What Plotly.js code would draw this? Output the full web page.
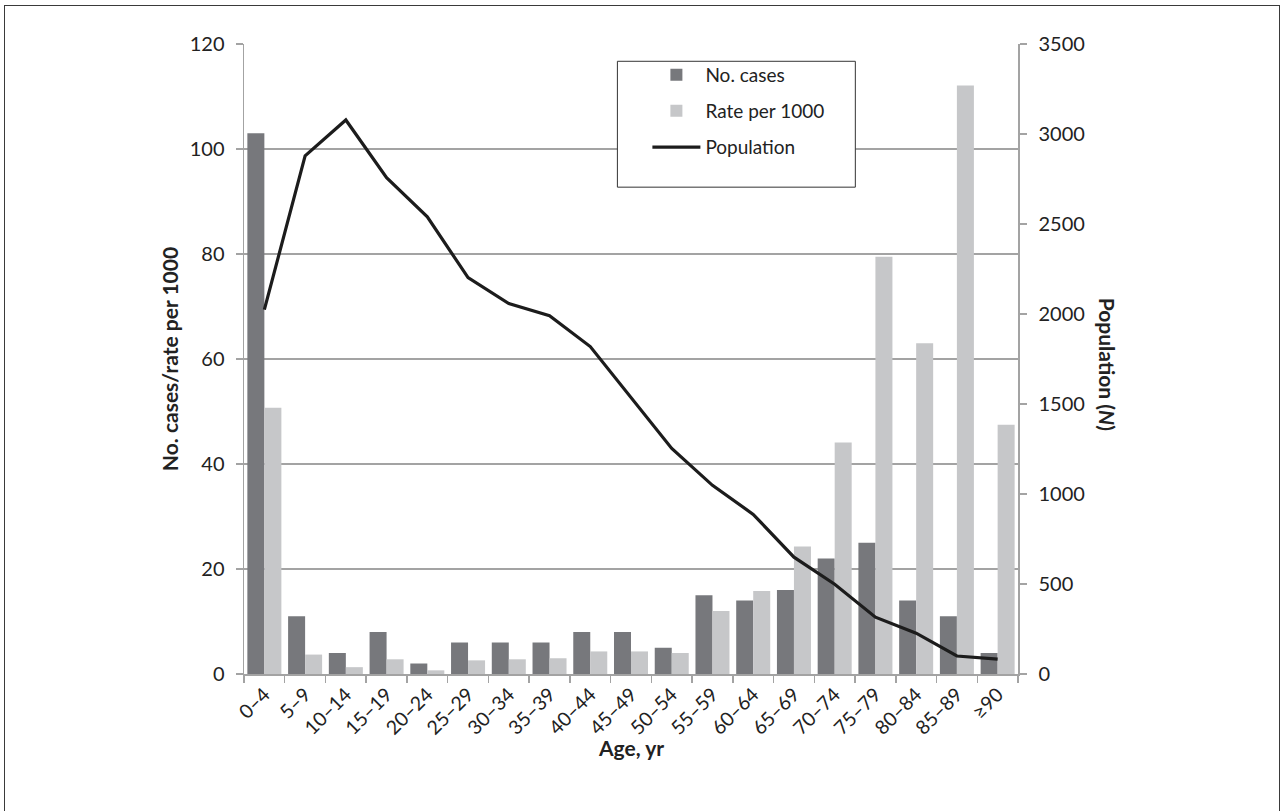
<!DOCTYPE html>
<html>
<head>
<meta charset="utf-8">
<script src="https://cdn.plot.ly/plotly-3.0.1.min.js"></script>
<style>
  html, body { margin: 0; padding: 0; background: #fff; overflow: hidden; }
  #frame { position: absolute; left: 4px; top: 5px; width: 1276px; height: 830px;
           border: 1.5px solid #3a3a3a; box-sizing: border-box; }
  #chart { position: absolute; left: 0; top: 0; width: 1285px; height: 811px; }
</style>
</head>
<body>
<div id="frame"></div>
<div id="chart"></div>
<script>
const ageGroups = ["0–4","5–9","10–14","15–19","20–24","25–29","30–34","35–39","40–44","45–49",
                   "50–54","55–59","60–64","65–69","70–74","75–79","80–84","85–89","≥90"];
const noCases = [103, 11, 4, 8, 2, 6, 6, 6, 8, 8, 5, 15, 14, 16, 22, 25, 14, 11, 4];
const ratePer1000 = [50.7, 3.7, 1.3, 2.8, 0.7, 2.6, 2.8, 3.0, 4.3, 4.3, 4.0, 12.0, 15.8, 24.3, 44.1, 79.5, 63.0, 112.1, 47.5];
const population = [2024, 2879, 3078, 2757, 2540, 2202, 2058, 1991, 1819, 1536, 1253, 1048, 887, 649, 499, 316, 227, 100, 83];
const leftTicks = [0, 20, 40, 60, 80, 100, 120];
const rightTicks = [0, 500, 1000, 1500, 2000, 2500, 3000, 3500];

const FONT = "Lato, 'Open Sans', sans-serif";
const GRID = "#a3a3a3";

// plot box in pixels (for converting legend box to paper fractions)
const PL = 243.5, PR = 1017.7, PT = 43.7, PB = 674.3;
const px2x = (p) => (p - PL) / (PR - PL);
const px2y = (p) => (PB - p) / (PB - PT);

const traces = [
  { type: "bar", name: "No. cases", x: ageGroups, y: noCases,
    marker: { color: "#77787c" }, legendgroup: "a", hoverinfo: "x+y" },
  { type: "bar", name: "Rate per 1000", x: ageGroups, y: ratePer1000,
    marker: { color: "#c6c7c9" }, legendgroup: "b", hoverinfo: "x+y" },
  { type: "scatter", mode: "lines", name: "Population", x: ageGroups, y: population,
    yaxis: "y2", line: { color: "#1c1c1c", width: 3.2 }, legendgroup: "c" }
];

const layout = {
  width: 1285, height: 811,
  margin: { l: PL, r: 1285 - PR, t: PT, b: 811 - PB },
  paper_bgcolor: "rgba(0,0,0,0)",
  plot_bgcolor: "#ffffff",
  font: { family: FONT, color: "#222", size: 20 },
  barmode: "group",
  bargap: 0.165,
  bargroupgap: 0,
  showlegend: true,
  legend: {
    x: px2x(647), y: px2y(55.5), xanchor: "left", yanchor: "top",
    bgcolor: "rgba(0,0,0,0)", borderwidth: 0,
    font: { family: FONT, size: 19, color: "#222" },
    traceorder: "grouped", tracegroupgap: 8.5, itemwidth: 48
  },
  shapes: [
    { type: "rect", xref: "paper", yref: "paper", layer: "above",
      x0: px2x(617), x1: px2x(855), y0: px2y(187), y1: px2y(61),
      fillcolor: "#ffffff", line: { color: "#333", width: 1 } }
  ],
  xaxis: {
    type: "category",
    tickangle: -45,
    tickson: "boundaries",
    ticks: "outside", ticklen: 7, tickcolor: GRID, tickwidth: 1.5,
    showline: true, linecolor: GRID, linewidth: 1.5,
    showgrid: false,
    tickfont: { family: FONT, size: 19.5, color: "#222" }
  },
  yaxis: {
    range: [0, 120], tickvals: leftTicks,
    ticks: "outside", ticklen: 7, tickcolor: GRID, tickwidth: 1.5,
    showline: true, linecolor: GRID, linewidth: 1.5,
    showgrid: true, gridcolor: GRID, gridwidth: 1.5,
    zeroline: false,
    ticklabelstandoff: 7,
    tickfont: { family: FONT, size: 20, color: "#222" },
    title: { text: "<b>No. cases/rate per 1000</b>", font: { family: FONT, size: 21, color: "#222" }, standoff: 5 }
  },
  yaxis2: {
    overlaying: "y", side: "right",
    range: [0, 3500], tickvals: rightTicks,
    ticks: "outside", ticklen: 7, tickcolor: GRID, tickwidth: 1.5,
    showline: true, linecolor: GRID, linewidth: 1.5,
    showgrid: false, zeroline: false,
    ticklabelstandoff: 8,
    tickfont: { family: FONT, size: 20, color: "#222" }
  },
  annotations: [
    { text: "<b>Population (<i>N</i>)</b>", xref: "paper", yref: "paper",
      x: px2x(1107), y: px2y(364), xanchor: "center", yanchor: "middle",
      textangle: 90, showarrow: false,
      font: { family: FONT, size: 21, color: "#222" } },
    { text: "<b>Age, yr</b>", xref: "paper", yref: "paper",
      x: 0.5, y: px2y(748), xanchor: "center", yanchor: "middle",
      showarrow: false,
      font: { family: FONT, size: 21, color: "#222" } }
  ]
};

Plotly.newPlot("chart", traces, layout, { displayModeBar: false, staticPlot: true });
</script>
</body>
</html>
